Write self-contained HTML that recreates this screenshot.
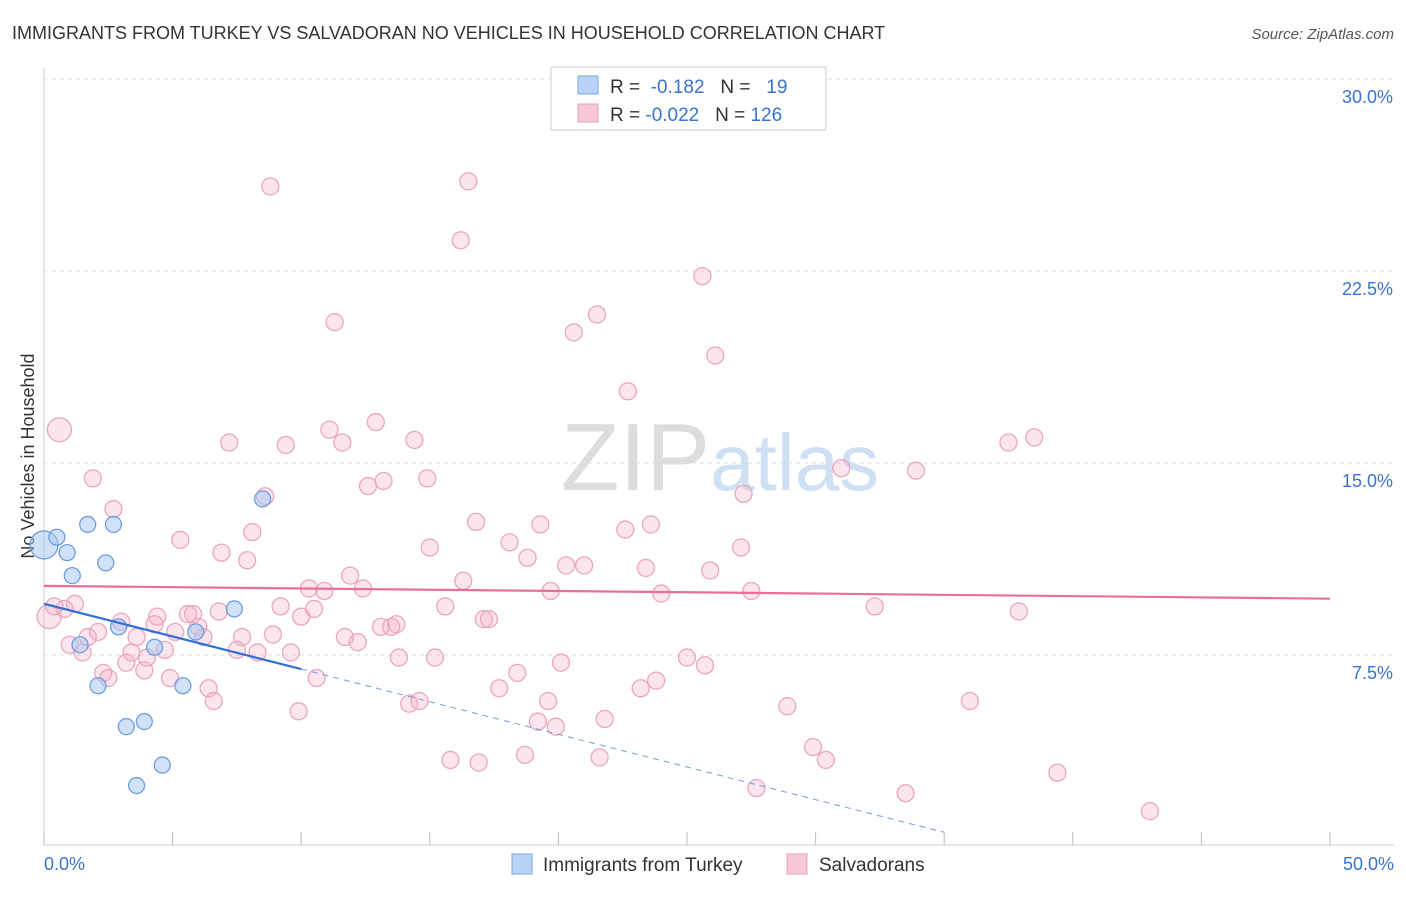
<!DOCTYPE html>
<html><head><meta charset="utf-8"><style>
body{margin:0;background:#fff;font-family:"Liberation Sans",sans-serif}
svg text{font-family:"Liberation Sans",sans-serif}
</style></head><body>
<svg width="1406" height="892" xmlns="http://www.w3.org/2000/svg" id="chart">
<text x="12" y="39" font-size="18" fill="#333">IMMIGRANTS FROM TURKEY VS SALVADORAN NO VEHICLES IN HOUSEHOLD CORRELATION CHART</text>
<text x="1394" y="39" font-size="15" fill="#555" text-anchor="end" font-style="italic">Source: ZipAtlas.com</text>
<text x="720" y="490" font-size="96" text-anchor="middle" fill="#ddd" font-family="Liberation Serif">ZIP<tspan fill="#cfe0f5" font-family="Liberation Sans" font-size="80">atlas</tspan></text>
<text transform="translate(34,456) rotate(-90)" font-size="18" fill="#333" text-anchor="middle">No Vehicles in Household</text>
<g id="grid"></g><g id="ticks"></g><g id="pts"></g><g id="lines"></g>
<g>
<rect x="551" y="67" width="275" height="63" fill="#fff" stroke="#ccc"/>
<rect x="578" y="76" width="20" height="18" fill="#b8d3f5" stroke="#7aa8e0"/>
<rect x="578" y="104" width="20" height="18" fill="#f9c8d8" stroke="#e8a0b8"/>
<text x="610" y="93" font-size="19" fill="#333">R = <tspan fill="#3a73d0">&#160;-0.182</tspan>&#160;&#160;&#160;N = <tspan fill="#3a73d0">&#160;&#160;19</tspan></text>
<text x="610" y="121" font-size="19" fill="#333">R = <tspan fill="#3a73d0">-0.022</tspan>&#160;&#160;&#160;N = <tspan fill="#3a73d0">126</tspan></text>
</g>
<g>
<rect x="512" y="854" width="20" height="20" fill="#b8d3f5" stroke="#7aa8e0"/>
<text x="543" y="871" font-size="19" fill="#333">Immigrants from Turkey</text>
<rect x="787" y="854" width="20" height="20" fill="#f9c8d8" stroke="#e8a0b8"/>
<text x="819" y="871" font-size="19" fill="#333">Salvadorans</text>
</g>
<text x="44" y="870" font-size="18" fill="#3a73d0">0.0%</text>
<text x="1394" y="870" font-size="18" fill="#3a73d0" text-anchor="end">50.0%</text>
</svg>
<script>
const yTicks=[7.5,15,22.5,30];
const yTickLabels=["7.5%","15.0%","22.5%","30.0%"];
const xTicks=[0,5,10,15,20,25,30,35,40,45,50];
const turkeyX=[0.0,0.5,0.9,1.1,1.7,2.4,2.7,2.1,1.4,2.9,3.2,3.9,3.6,4.6,4.3,5.4,5.9,7.4,8.5];
const turkeyY=[11.8,12.1,11.5,10.6,12.6,11.1,12.6,6.3,7.9,8.6,4.7,4.9,2.4,3.2,7.8,6.3,8.4,9.3,13.6];
const salvX=[8.8,16.5,16.2,25.6,11.3,21.5,20.6,26.1,22.7,12.9,11.1,11.6,14.4,7.2,9.4,0.6,38.5,37.5,31.0,33.9,1.9,13.2,12.6,14.9,8.6,27.2,2.7,16.8,19.3,22.6,23.6,8.1,5.3,18.1,15.0,27.1,6.9,7.9,18.8,20.3,21.0,23.4,25.9,11.9,16.3,10.3,10.9,12.4,19.7,24.0,27.5,1.2,0.8,0.2,0.4,9.2,10.5,15.6,32.3,37.9,6.8,5.6,5.8,4.4,10.0,17.1,17.3,3.0,4.3,13.7,13.5,13.1,6.0,2.1,5.1,6.2,8.9,11.7,1.7,3.6,7.7,12.2,1.0,1.5,4.7,7.5,8.3,9.6,3.4,4.0,13.8,15.2,25.0,3.2,20.1,25.7,3.9,2.3,2.5,4.9,18.4,10.6,23.8,6.4,17.7,23.2,6.6,14.2,14.6,19.6,36.0,28.9,9.9,21.8,19.2,19.9,29.9,18.7,15.8,16.9,21.6,30.4,39.4,27.7,33.5,43.0];
const salvY=[25.8,26.0,23.7,22.3,20.5,20.8,20.1,19.2,17.8,16.6,16.3,15.8,15.9,15.8,15.7,16.3,16.0,15.8,14.8,14.7,14.4,14.3,14.1,14.4,13.7,13.8,13.2,12.7,12.6,12.4,12.6,12.3,12.0,11.9,11.7,11.7,11.5,11.2,11.3,11.0,11.0,10.9,10.8,10.6,10.4,10.1,10.0,10.1,10.0,9.9,10.0,9.5,9.3,9.0,9.4,9.4,9.3,9.4,9.4,9.2,9.2,9.1,9.1,9.0,9.0,8.9,8.9,8.8,8.7,8.7,8.6,8.6,8.6,8.4,8.4,8.2,8.3,8.2,8.2,8.2,8.2,8.0,7.9,7.6,7.7,7.7,7.6,7.6,7.6,7.4,7.4,7.4,7.4,7.2,7.2,7.1,6.9,6.8,6.6,6.6,6.8,6.6,6.5,6.2,6.2,6.2,5.7,5.6,5.7,5.7,5.7,5.5,5.3,5.0,4.9,4.7,3.9,3.6,3.4,3.3,3.5,3.4,2.9,2.3,2.1,1.4];
const turkeyTrend=[9.5,6.95];   // values at x=0 and x=10
const turkeyDashEnd=[35];
const salvTrend=[10.2,9.7];     // values at x=0 and x=50
const NS="http://www.w3.org/2000/svg";
const X=v=>44+v*25.72, Y=v=>847-v*25.6;
function mk(t,a,p){const e=document.createElementNS(NS,t);for(const k in a)e.setAttribute(k,a[k]);p.appendChild(e);return e;}
const g=document.getElementById('grid'),tk=document.getElementById('ticks'),pts=document.getElementById('pts'),ln=document.getElementById('lines');
yTicks.forEach((v,i)=>{
 const l=mk('line',{x1:44,x2:1394,y1:Y(v),y2:Y(v),stroke:'#ddd','stroke-dasharray':'4,4'},g);
 
 
 const t=mk('text',{x:1393,y:Y(v)+24,'font-size':18,fill:'#3a73d0','text-anchor':'end'},g);
 t.textContent=yTickLabels[i];
 
 
});
const ax=mk('line',{x1:44,x2:1394,y1:845,y2:845,stroke:'#ccc'},tk);


const ay=mk('line',{x1:44,x2:44,y1:68,y2:845,stroke:'#ccc'},tk);


xTicks.forEach(v=>{
 const l=mk('line',{x1:X(v),x2:X(v),y1:832,y2:845,stroke:'#bbb'},tk);
 
 
});
salvX.forEach((v,i)=>{
 const r=(i==15||i==53)?12:8.5;
 const c=mk('circle',{cx:X(v),cy:Y(salvY[i]),r:r,fill:'rgba(244,170,198,0.3)',stroke:'#eaa6bf','stroke-width':1.3},pts);
 
 
});
turkeyX.forEach((v,i)=>{
 const r=i==0?14:8;
 const c=mk('circle',{cx:X(v),cy:Y(turkeyY[i]),r:r,fill:'rgba(170,200,242,0.55)',stroke:'#6f9fdc','stroke-width':1.3},pts);
 
 
});
const sl=mk('line',{x1:X(0),y1:Y(salvTrend[0]),x2:X(50),y2:Y(salvTrend[1]),stroke:'#e86f9a','stroke-width':2.2},ln);


const slope=(turkeyTrend[1]-turkeyTrend[0])/10;
const tl=mk('line',{x1:X(0),y1:Y(turkeyTrend[0]),x2:X(10),y2:Y(turkeyTrend[1]),stroke:'#2f6fd6','stroke-width':2.2},ln);


const e=turkeyDashEnd[0];
const td=mk('line',{x1:X(10),y1:Y(turkeyTrend[1]),x2:X(e),y2:Y(turkeyTrend[0]+slope*e),stroke:'#6f9fdc','stroke-width':1,'stroke-dasharray':'6,5'},ln);


</script>
</body></html>
